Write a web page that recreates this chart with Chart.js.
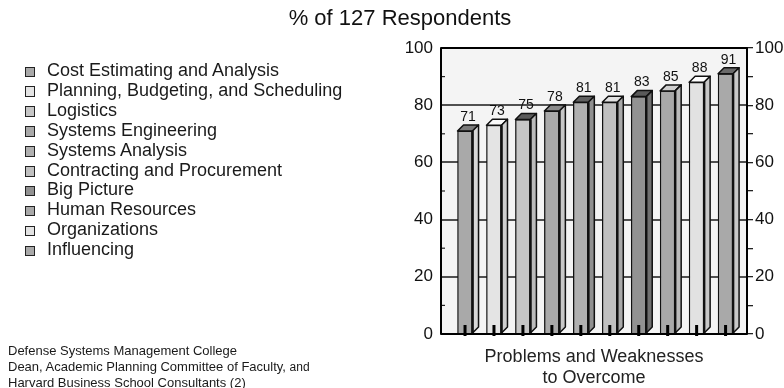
<!DOCTYPE html>
<html>
<head>
<meta charset="utf-8">
<title>% of 127 Respondents</title>
<script src="https://cdn.jsdelivr.net/npm/chart.js@4"></script>
<style>
  body { margin: 0; background: #fff; font-family: "Liberation Sans", Arial, sans-serif; color: #1a1a1a; }
  #wrap { position: relative; width: 784px; height: 388px; }
  #legend { position: absolute; left: 25px; top: 61px; margin: 0; padding: 0; list-style: none; font-size: 18px; line-height: 19.9px; }
  #legend li { position: relative; padding-left: 22px; white-space: nowrap; }
  #legend .box { position: absolute; left: -0.5px; top: 5.5px; width: 8.5px; height: 8.5px; border: 1.8px solid #222; }
  #source { position: absolute; left: 8px; top: 342.5px; font-size: 13px; line-height: 16.3px; white-space: nowrap; }
  #source small { font-size: 12px; }
</style>
</head>
<body>
<div id="wrap">
  <canvas id="myChart" width="784" height="388"></canvas>
  <ul id="legend"></ul>
  <div id="source">Defense Systems Management College<br>Dean, Academic Planning Committee of Faculty, <small>and</small><br>Harvard Business School Consultants (2)</div>
</div>
<script>
const categories = ['Cost Estimating and Analysis', 'Planning, Budgeting, and Scheduling', 'Logistics',
    'Systems Engineering', 'Systems Analysis', 'Contracting and Procurement', 'Big Picture',
    'Human Resources', 'Organizations', 'Influencing'];
const respondentPct = [71, 73, 75, 78, 81, 81, 83, 85, 88, 91];
const tickLabels = [0, 20, 40, 60, 80, 100];
const minorTicks = [10, 30, 50, 70, 90];

// grey shades: front face, top face, side face
const faceColors = ['#a9a9a9', '#e4e4e4', '#c6c6c6', '#a9a9a9', '#b0b0b0', '#c0c0c0', '#929292', '#a9a9a9', '#e2e2e2', '#a9a9a9'];
const topColors  = ['#7a7a7a', '#fafafa', '#5a5a5a', '#8a8a8a', '#606060', '#e0e0e0', '#5a5a5a', '#cfcfcf', '#ffffff', '#6a6a6a'];
const sideColors = ['#d8d8d8', '#cfcfcf', '#bbbbbb', '#c8c8c8', '#909090', '#a8a8a8', '#707070', '#bbbbbb', '#c8c8c8', '#c8c8c8'];

// legend on the left
const legendEl = document.getElementById('legend');
categories.forEach((name, i) => {
    const li = document.createElement('li');
    const box = document.createElement('span');
    box.className = 'box';
    box.style.background = faceColors[i];
    li.appendChild(box);
    li.appendChild(document.createTextNode(name));
    legendEl.appendChild(li);
});

const DEPTH = 6;

const bar3d = {
    id: 'bar3d',
    beforeDraw(chart) {
        const { ctx, chartArea: a } = chart;
        ctx.save();
        ctx.fillStyle = '#f4f4f4';
        ctx.fillRect(a.left, a.top, a.right - a.left, a.bottom - a.top);
        ctx.restore();
    },
    afterDatasetsDraw(chart) {
        const { ctx, chartArea: a } = chart;
        const y = chart.scales.y;
        const bars = chart.getDatasetMeta(0).data;
        ctx.save();
        ctx.lineJoin = 'round';
        bars.forEach((bar, i) => {
            const { x, y: top, base, width } = bar.getProps(['x', 'y', 'base', 'width'], true);
            const l = x - width / 2, r = x + width / 2;
            // top face
            ctx.beginPath();
            ctx.moveTo(l, top);
            ctx.lineTo(l + DEPTH, top - DEPTH);
            ctx.lineTo(r + DEPTH, top - DEPTH);
            ctx.lineTo(r, top);
            ctx.closePath();
            ctx.fillStyle = topColors[i];
            ctx.fill();
            ctx.lineWidth = 1.5;
            ctx.strokeStyle = '#111';
            ctx.stroke();
            // side face
            ctx.beginPath();
            ctx.moveTo(r, top);
            ctx.lineTo(r + DEPTH, top - DEPTH);
            ctx.lineTo(r + DEPTH, base - DEPTH);
            ctx.lineTo(r, base);
            ctx.closePath();
            ctx.fillStyle = sideColors[i];
            ctx.fill();
            ctx.stroke();
            // dark front edge
            ctx.lineWidth = 2.5;
            ctx.beginPath();
            ctx.moveTo(r, top);
            ctx.lineTo(r, base);
            ctx.stroke();
            // floor tick
            ctx.fillStyle = '#000';
            ctx.fillRect(x - 1.5, base - 8, 3, 11);
            // value label
            ctx.fillStyle = '#111';
            ctx.font = '14px "Liberation Sans", Arial, sans-serif';
            ctx.textAlign = 'center';
            ctx.textBaseline = 'bottom';
            ctx.fillText(String(respondentPct[i]), x + DEPTH / 2, top - DEPTH - 1);
        });
        // minor ticks inside the left wall
        ctx.strokeStyle = '#222';
        ctx.lineWidth = 1.2;
        minorTicks.forEach(v => {
            const py = y.getPixelForValue(v);
            ctx.beginPath();
            ctx.moveTo(a.left, py);
            ctx.lineTo(a.left + 4, py);
            ctx.stroke();
        });
        // frame
        ctx.lineWidth = 2;
        ctx.strokeStyle = '#000';
        ctx.strokeRect(a.left, a.top, a.right - a.left, a.bottom - a.top);
        ctx.restore();
    }
};

const data = {
    datasets: [{
        data: respondentPct.map((v, i) => ({ x: i + 1, y: v })),
        backgroundColor: faceColors,
        borderColor: '#111',
        borderWidth: 1.3,
        barThickness: 15
    }]
};

const axisFont = { family: '"Liberation Sans", Arial, sans-serif', size: 17 };

const config = {
    type: 'bar',
    data: data,
    options: {
        responsive: false,
        animation: false,
        layout: { padding: { left: 16, right: 0, top: 0, bottom: 0 } },
        plugins: {
            legend: { display: false },
            tooltip: { enabled: false },
            title: {
                display: true,
                text: '% of 127 Respondents',
                color: '#111',
                font: { family: '"Liberation Sans", Arial, sans-serif', size: 22, weight: 'normal' },
                padding: { top: 6, bottom: 15.6 }
            }
        },
        scales: {
            x: {
                type: 'linear',
                offset: false,
                min: 0.17,
                max: 10.74,
                ticks: { display: false },
                grid: { display: false },
                border: { display: false },
                title: {
                    display: true,
                    text: ['Problems and Weaknesses', 'to Overcome'],
                    color: '#222',
                    font: { family: '"Liberation Sans", Arial, sans-serif', size: 18, lineHeight: 1.15 },
                    padding: 0
                },
                afterFit: s => { s.height = 54; }
            },
            y: {
                position: 'left',
                min: 0,
                max: 100,
                afterBuildTicks: s => { s.ticks = tickLabels.map(v => ({ value: v })); },
                ticks: { color: '#111', font: axisFont, padding: 8 },
                grid: {
                    drawTicks: false,
                    lineWidth: 2,
                    color: c => (c.tick && c.tick.value > 0 && c.tick.value < 100) ? '#505050' : 'rgba(0,0,0,0)'
                },
                border: { display: false },
                afterFit: s => { s.width = 425; }
            },
            y2: {
                position: 'right',
                min: 0,
                max: 100,
                afterBuildTicks: s => {
                    s.ticks = tickLabels.concat(minorTicks).sort((a, b) => a - b).map(v => ({ value: v }));
                },
                ticks: {
                    color: '#111',
                    font: axisFont,
                    padding: 2,
                    callback: v => tickLabels.includes(v) ? v : ''
                },
                grid: { drawOnChartArea: false, tickLength: 6, color: '#222', lineWidth: 1.3 },
                border: { display: false },
                afterFit: s => { s.width = 37; }
            }
        }
    },
    plugins: [bar3d]
};

// Render the chart
const myChart = new Chart(
    document.getElementById('myChart'),
    config
);
</script>
</body>
</html>
